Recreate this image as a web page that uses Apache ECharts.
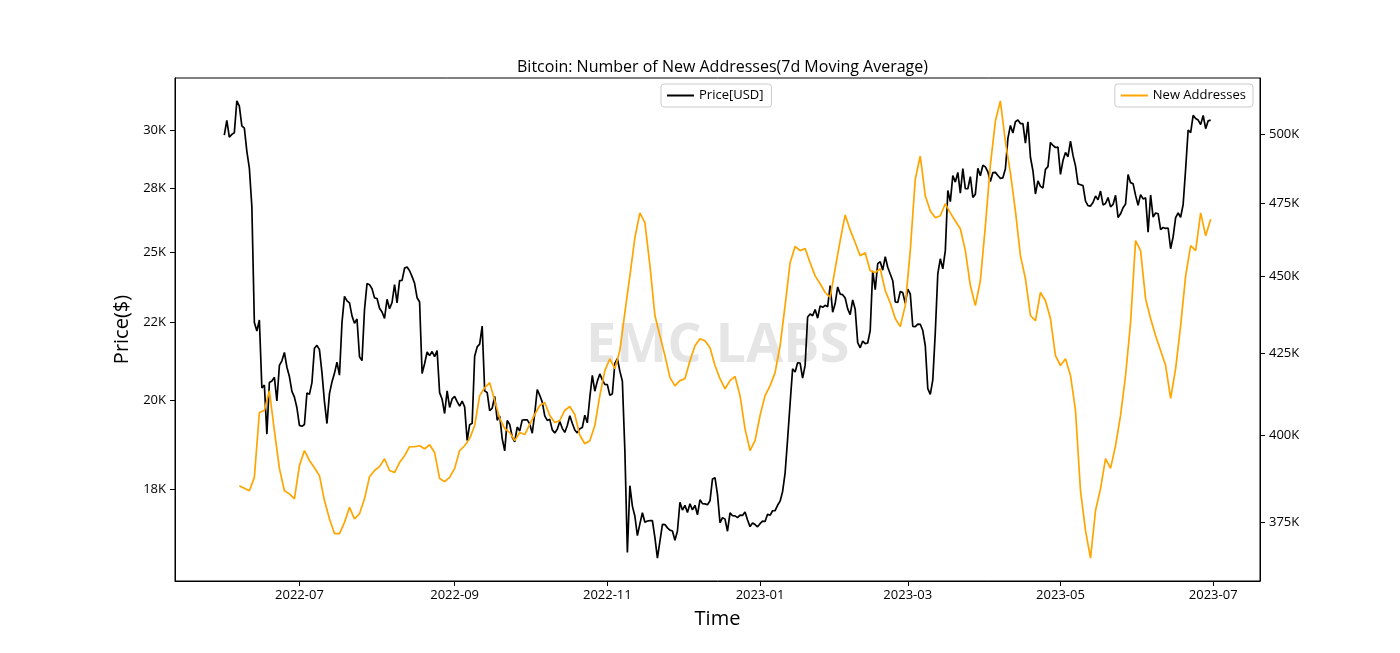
<!DOCTYPE html>
<html>
<head>
<meta charset="utf-8">
<script src="https://cdn.jsdelivr.net/npm/echarts@6/dist/echarts.min.js"></script>
<style>
html,body{margin:0;padding:0;background:#fff;}
#chart{width:1400px;height:653px;}
</style>
</head>
<body>
<div id="chart"></div>
<script>
// ---------------- DATA ----------------
const titleText = 'Bitcoin: Number of New Addresses(7d Moving Average)';
const priceName = 'Price[USD]';
const addrName = 'New Addresses';

// Daily BTC price, 2022-06-01 .. 2023-06-30
const priceStart = [2022, 6, 1];
const price = [
// 2022-06
29800,30467,29704,29833,29907,31371,31125,30214,30112,29083,28360,26762,22487,22206,22572,20381,20471,19018,20553,20600,20711,19988,21085,21231,21502,21028,20735,20281,20105,19785,
// 2022-07
19269,19243,19297,20231,20190,20548,21637,21731,21592,20860,19970,19323,20212,20569,20836,21190,20779,22485,23389,23231,23164,22714,22465,22609,21361,21239,22930,23843,23804,23657,23336,
// 2022-08
23314,22978,22846,22630,23289,22961,23175,23810,23164,23948,23957,24403,24441,24306,24094,23854,23342,23191,20834,21140,21516,21399,21529,21368,21560,20240,20041,19616,20297,19797,20050,
// 2022-09
20127,19969,19833,19986,19813,18837,19290,19329,21381,21680,21769,22370,20297,20241,19701,19772,20127,19420,19544,18891,18547,19413,19297,18937,18802,19222,19110,19427,19432,19431,
// 2022-10
19312,19044,19623,20336,20160,19955,19546,19416,19446,19141,19051,19157,19382,19185,19067,19268,19550,19334,19139,19053,19172,19208,19567,19345,20095,20770,20285,20595,20818,20635,20495,
// 2022-11
20485,20159,20209,21148,21300,20905,20591,18547,15922,17601,17070,16812,16330,16619,16900,16662,16692,16700,16700,16281,15787,16190,16610,16604,16521,16464,16445,16217,16444,17168,
// 2022-12
16968,17089,16908,17130,16975,17090,16848,17233,17134,17128,17105,17206,17782,17815,17365,16648,16777,16739,16438,16896,16824,16821,16778,16842,16832,16920,16717,16552,16642,16603,16548,
// 2023-01
16625,16688,16680,16863,16836,16951,16955,17091,17197,17446,17934,18869,19910,20977,20880,21170,21161,20688,21086,22676,22778,22721,22934,22637,23058,23008,23078,23031,23775,22841,23139,
// 2023-02
23723,23471,23449,23331,22955,22760,23264,22939,21819,21651,21870,21788,21808,22220,24307,23623,24565,24641,24328,24829,24436,24188,23947,23198,23175,23561,23522,23147,
// 2023-03
23646,23475,22362,22353,22435,22429,22219,21718,20363,20187,20633,22163,24197,24746,24375,25052,27423,26965,28038,27767,28175,27307,28333,27493,27494,27994,27139,27268,28348,28033,28478,
// 2023-04
28411,28199,27790,28168,28177,28044,27926,27948,28333,29653,30235,29892,30400,30485,30318,30315,29445,30397,28823,28245,27276,27817,27591,27525,28307,28422,29473,29340,29248,29268,
// 2023-05
28091,28680,29031,28848,29535,28904,28454,27694,27659,27621,26987,26805,26785,26931,27192,27036,27398,26833,26890,27130,26754,26851,27225,26334,26476,26719,26868,28086,27746,27702,27219,
// 2023-06
26820,27249,27075,27119,25760,27238,26346,26507,26481,25851,25940,25902,25918,25125,25577,26328,26510,26340,26851,28327,30027,29912,30695,30548,30480,30271,30689,30086,30445,30477
];

// New addresses (7d MA), one reading every 2 days starting 2022-06-07 (thousands)
const addrStart = [2022, 6, 7];
const addrStepDays = 2;
const addrK = [
385.3,384.6,383.9,387.7,406.8,407.4,413.4,401.4,390.3,383.9,383.0,381.6,391.1,395.5,392.6,390.5,388.2,381.1,376.0,371.9,
371.9,375.0,379.2,376.0,377.4,381.6,387.9,389.7,390.8,393.1,389.7,389.1,392.0,394.0,396.6,396.6,396.9,396.0,397.2,394.9,
387.4,386.5,387.7,390.3,395.5,396.9,399.0,402.9,411.9,414.3,415.9,410.4,405.0,402.0,400.8,398.4,400.8,400.2,403.2,406.2,
408.9,409.8,405.9,403.8,404.4,407.4,408.6,406.2,400.0,397.5,398.4,402.9,411.9,419.6,423.3,420.2,425.9,438.1,450.1,463.0,
471.6,468.2,453.6,437.1,430.6,424.3,417.5,414.9,416.5,417.1,422.7,427.4,429.6,429.0,426.8,421.2,417.1,414.0,416.5,417.8,
411.9,401.9,395.5,398.4,405.9,411.9,414.9,419.0,427.4,440.3,454.5,460.0,458.6,459.3,454.5,450.1,447.5,444.6,443.0,452.5,
462.0,470.9,465.7,461.3,456.9,457.9,451.8,451.2,452.5,445.2,441.2,436.1,433.5,440.3,458.6,483.6,491.9,477.6,472.3,469.9,
470.6,474.8,471.6,468.8,466.1,458.6,446.9,440.3,448.5,467.1,488.6,504.8,512.4,497.2,485.8,472.3,456.9,449.2,437.1,435.4,
444.6,441.9,436.1,424.3,421.2,423.3,418.1,407.4,383.9,372.7,365.2,378.3,384.5,393.1,390.3,396.9,405.9,418.1,434.8,462.0,
458.6,442.5,436.1,430.6,425.9,421.2,411.1,420.2,433.8,450.1,460.3,458.6,471.6,463.7,469.4
];

// Axis ticks
const xTickDates = ['2022-07-01','2022-09-01','2022-11-01','2023-01-01','2023-03-01','2023-05-01','2023-07-01'];
const xTickLabels = ['2022-07','2022-09','2022-11','2023-01','2023-03','2023-05','2023-07'];
const leftTickValues = [17500, 20000, 22500, 25000, 27500, 30000];
const leftTickLabels = ['18K', '20K', '22K', '25K', '28K', '30K'];
const rightTickValues = [375000, 400000, 425000, 450000, 475000, 500000];
const rightTickLabels = ['375K', '400K', '425K', '450K', '475K', '500K'];

// ---------------- BUILD ----------------
function dayTs(start, offset) {
  return Date.UTC(start[0], start[1] - 1, start[2] + offset);
}
function parseDate(s) {
  const p = s.split('-').map(Number);
  return Date.UTC(p[0], p[1] - 1, p[2]);
}
const priceData = price.map((v, i) => [dayTs(priceStart, i), v]);
const addrData = addrK.map((v, i) => [dayTs(addrStart, i * addrStepDays), v * 1000]);

const xFirst = priceData[0][0], xLast = priceData[priceData.length - 1][0];
const xPad = (xLast - xFirst) * 0.05;
function logRange(vals) {
  const lo = Math.min.apply(null, vals), hi = Math.max.apply(null, vals);
  const r = Math.log(hi / lo) * 0.05;
  return [lo * Math.exp(-r), hi * Math.exp(r)];
}
const leftRange = logRange(price);
const rightRange = logRange(addrData.map(d => d[1]));
const xTickTs = xTickDates.map(parseDate);

function lookup(values, labels) {
  return function (v) {
    let best = 0, bd = Infinity;
    for (let i = 0; i < values.length; i++) {
      const d = Math.abs(values[i] - v);
      if (d < bd) { bd = d; best = i; }
    }
    return labels[best];
  };
}

const FONT = "'Open Sans', 'DejaVu Sans', sans-serif";

const chart = echarts.init(document.getElementById('chart'), null, {renderer: 'canvas'});
chart.setOption({
  backgroundColor: '#ffffff',
  animation: false,
  textStyle: {fontFamily: FONT, color: '#000'},
  title: {
    text: titleText,
    left: 717.5, top: 54, textAlign: 'center',
    textStyle: {fontFamily: FONT, fontSize: 16, fontWeight: 'normal', color: '#000'}
  },
  grid: {
    left: 175, right: 140, top: 78, bottom: 72,
    show: true, borderColor: '#000', borderWidth: 1, backgroundColor: 'transparent'
  },
  legend: [
    {
      data: [{name: priceName, icon: 'rect'}],
      left: 661, top: 84,
      itemWidth: 27, itemHeight: 2,
      padding: [5, 8, 5, 6],
      borderColor: '#cccccc', borderWidth: 1, borderRadius: 3,
      backgroundColor: 'rgba(255,255,255,0.8)',
      textStyle: {fontFamily: FONT, fontSize: 13, color: '#000'}
    },
    {
      data: [{name: addrName, icon: 'rect'}],
      right: 147, top: 84,
      itemWidth: 27, itemHeight: 2,
      padding: [5, 7, 5, 6],
      borderColor: '#cccccc', borderWidth: 1, borderRadius: 3,
      backgroundColor: 'rgba(255,255,255,0.8)',
      textStyle: {fontFamily: FONT, fontSize: 13, color: '#000'}
    }
  ],
  graphic: [{
    type: 'text', left: 586, top: 320, z: 0,
    style: {
      text: 'EMC LABS',
      font: "bold 54px 'Open Sans', sans-serif",
      fill: 'rgba(0,0,0,0.10)'
    }
  }],
  xAxis: {
    type: 'value', scale: true,
    min: xFirst - xPad, max: xLast + xPad,
    name: 'Time', nameLocation: 'middle', nameGap: 28,
    nameTextStyle: {fontFamily: FONT, fontSize: 20, color: '#000'},
    axisLine: {show: true, onZero: false, lineStyle: {color: '#000', width: 1}},
    axisTick: {show: true, inside: false, length: 5, customValues: xTickTs, lineStyle: {color: '#000'}},
    axisLabel: {
      show: true, margin: 8, fontFamily: FONT, fontSize: 13, color: '#000',
      customValues: xTickTs,
      formatter: lookup(xTickTs, xTickLabels)
    },
    splitLine: {show: false}
  },
  yAxis: [
    {
      type: 'log', logBase: 10, position: 'left',
      min: leftRange[0], max: leftRange[1],
      name: 'Price($)', nameLocation: 'middle', nameGap: 37, nameRotate: 90,
      nameTextStyle: {fontFamily: FONT, fontSize: 20, color: '#000'},
      axisLine: {show: true, lineStyle: {color: '#000', width: 1}},
      axisTick: {show: true, inside: false, length: 5, customValues: leftTickValues, lineStyle: {color: '#000'}},
      axisLabel: {
        show: true, margin: 9, fontFamily: FONT, fontSize: 13, color: '#000',
        customValues: leftTickValues,
        formatter: lookup(leftTickValues, leftTickLabels)
      },
      splitLine: {show: false}, minorTick: {show: false}
    },
    {
      type: 'log', logBase: 10, position: 'right',
      min: rightRange[0], max: rightRange[1],
      axisLine: {show: true, lineStyle: {color: '#000', width: 1}},
      axisTick: {show: true, inside: false, length: 5, customValues: rightTickValues, lineStyle: {color: '#000'}},
      axisLabel: {
        show: true, margin: 9, fontFamily: FONT, fontSize: 13, color: '#000',
        customValues: rightTickValues,
        formatter: lookup(rightTickValues, rightTickLabels)
      },
      splitLine: {show: false}, minorTick: {show: false}
    }
  ],
  series: [
    {
      name: priceName, type: 'line', yAxisIndex: 0, data: priceData,
      showSymbol: false, symbol: 'none', z: 3,
      lineStyle: {color: '#000000', width: 1.7},
      itemStyle: {color: '#000000'}
    },
    {
      name: addrName, type: 'line', yAxisIndex: 1, data: addrData,
      showSymbol: false, symbol: 'none', z: 4,
      lineStyle: {color: '#FFA500', width: 1.7},
      itemStyle: {color: '#FFA500'}
    }
  ]
});
</script>
</body>
</html>
